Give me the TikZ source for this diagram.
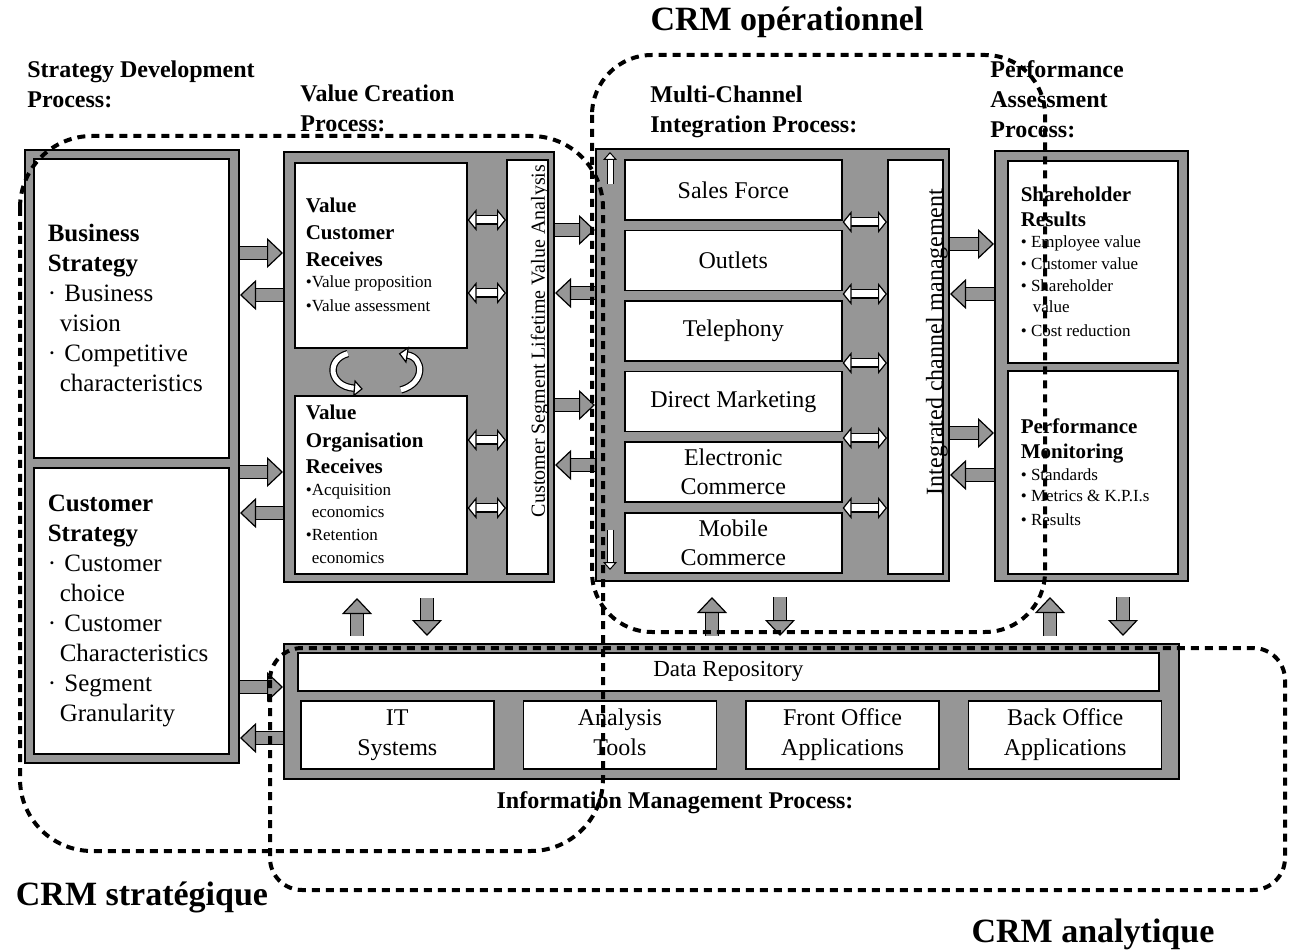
\documentclass[tikz,border=0pt]{standalone}
\usepackage{fontspec}
\setmainfont{Liberation Serif}
\usetikzlibrary{arrows.meta,positioning}
\definecolor{framegray}{RGB}{150,150,150}
\newcommand{\fsz}[2]{\fontsize{#1}{#2}\selectfont\spaceskip=0pt\xspaceskip=0pt\relax}
\newcommand{\pdot}{\textperiodcentered\ }

\begin{document}
\begin{tikzpicture}[
  x=0.5pt, y=-0.5pt,
  frame/.style={draw, line width=1pt, fill=framegray, anchor=north west, inner sep=0pt},
  panel/.style={draw, line width=0.8pt, fill=white, anchor=north west, inner sep=0pt},
  txtpanel/.style={panel, align=left, inner xsep=#1},
  chan/.style={draw, line width=0.8pt, fill=white, inner sep=0pt, align=center,
               minimum width=108.5pt, minimum height=30pt, font=\fsz{12}{14.5}},
  imbox/.style={panel, align=center, minimum width=96.5pt, minimum height=34pt, font=\fsz{12}{15}},
  hdr/.style={anchor=north west, inner sep=0pt, align=left, font=\fsz{12}{15}\bfseries},
  crmlab/.style={inner sep=0pt, font=\fsz{17}{20}\bfseries},
  crm/.style={line width=2pt, dash pattern=on 4pt off 3pt},
  garr/.style={draw, line width=0.6pt, double=framegray, double distance=6pt,
               -{Triangle[length=8pt, width=15pt, fill=framegray, line width=0.6pt]}},
  warr/.style={line width=0.6pt, double=white, double distance=3.5pt,
               {Triangle[length=4.5pt, width=11pt, fill=white, line width=0.6pt]}-{Triangle[length=4.5pt, width=11pt, fill=white, line width=0.6pt]}},
  curl/.style={line width=0.6pt, double=white, double distance=2.5pt,
               -{Triangle[length=4.5pt, width=8.5pt, fill=white, line width=0.6pt]}},
  sarr/.style={line width=0.5pt, double=white, double distance=2.5pt,
               -{Triangle[length=4pt, width=7pt, fill=white, line width=0.5pt]}},
  updn/.style={shorten <=3.5pt, shorten >=7.5pt},
  dnup/.style={shorten <=7.5pt, shorten >=3.5pt},
]
\useasboundingbox (0,0) rectangle (1295,951);

% strategy development
\node[frame, minimum width=107pt, minimum height=306.5pt] (sdf) at (24,149) {};
\node[txtpanel=7pt, text width=83.5pt, minimum width=97.5pt, minimum height=149.5pt, font=\fsz{12.5}{15}] (bs) at (33,158)
  {\textbf{Business}\\ \textbf{Strategy}\\ \pdot Business\\ \hspace*{6pt}vision\\ \pdot Competitive\\ \hspace*{6pt}characteristics};
\node[txtpanel=7pt, text width=83.5pt, minimum width=97.5pt, minimum height=143pt, font=\fsz{12.5}{15}] (cs) at (33,467)
  {\textbf{Customer}\\ \textbf{Strategy}\\ \pdot Customer\\ \hspace*{6pt}choice\\ \pdot Customer\\ \hspace*{6pt}Characteristics\\ \pdot Segment\\ \hspace*{6pt}Granularity};

% value creation
\node[frame, minimum width=135pt, minimum height=215pt] (vcf) at (283,151) {};
\node[txtpanel=5.5pt, text width=75pt, minimum width=86pt, minimum height=92.5pt] (vcr) at (294,162)
  {\fsz{10.5}{13.5}\bfseries Value\\ Customer\\ Receives\par
   \fsz{8.5}{10.5}\mdseries \textbullet Value proposition\\ \textbullet Value assessment};
\node[txtpanel=5.5pt, text width=75pt, minimum width=86pt, minimum height=89pt] (vor) at (294,395)
  {\fsz{10.5}{13.5}\bfseries Value\\ Organisation\\ Receives\par
   \fsz{8.5}{11}\mdseries \textbullet Acquisition\\ \hspace*{3pt}economics\\ \textbullet Retention\\ \hspace*{3pt}economics};
\node[panel, minimum width=20.5pt, minimum height=207pt] (lva) at (506,159) {};
\node[rotate=90, inner sep=0pt, font=\fsz{10}{12}] (lvat) at (540,341) {Customer Segment Lifetime Value Analysis};

% multi-channel integration
\node[frame, minimum width=176.5pt, minimum height=216pt] (mcf) at (595,148) {};
\node[chan, anchor=north west] (sales) at (624,159) {Sales Force};
\node[chan, below=4.5pt of sales] (outl) {Outlets};
\node[chan, below=4.5pt of outl] (tel) {Telephony};
\node[chan, below=4.5pt of tel] (dm) {Direct Marketing};
\node[chan, below=4.5pt of dm] (ec) {Electronic\\ Commerce};
\node[chan, below=4.5pt of ec] (mob) {Mobile\\ Commerce};
\node[panel, minimum width=27.5pt, minimum height=207pt] (icm) at (887,159) {};
\node[rotate=90, inner sep=0pt, font=\fsz{12}{14}] (icmt) at (937,342) {Integrated channel management};

% performance assessment
\node[frame, minimum width=96.5pt, minimum height=215pt] (paf) at (994,150) {};
\node[txtpanel=6.5pt, text width=72pt, minimum width=85pt, minimum height=101pt] (shr) at (1007,160)
  {\fsz{10.5}{12.5}\bfseries Shareholder\\ Results\par
   \fsz{8.5}{10.8}\mdseries \textbullet\ Employee value\\ \textbullet\ Customer value\\ \textbullet\ Shareholder\\ \hspace*{6pt}value\\ \textbullet\ Cost reduction};
\node[txtpanel=6.5pt, text width=72pt, minimum width=85pt, minimum height=101.5pt] (pmon) at (1007,370)
  {\fsz{10.5}{12.5}\bfseries Performance\\ Monitoring\par
   \fsz{8.5}{10.8}\mdseries \textbullet\ Standards\\ \textbullet\ Metrics \& K.P.I.s\\ \textbullet\ Results};

% information management
\node[frame, minimum width=447.5pt, minimum height=67.5pt] (imf) at (283,643) {};
\node[panel, minimum width=430.5pt, minimum height=19pt, font=\fsz{11.5}{14}] (repo) at (297,652) {Data Repository};
\node[imbox] (its) at (300,700) {IT\\ Systems};
\node[imbox, right=14pt of its] (ant) {Analysis\\ Tools\vphantom{y}};
\node[imbox, right=14pt of ant] (foa) {Front Office\\ Applications};
\node[imbox, right=14pt of foa] (boa) {Back Office\\ Applications};

% headings
\node[hdr] (sdh) at (27,60) {Strategy Development\\ Process:};
\node[hdr] (vch) at (300,84) {Value Creation\\ Process:};
\node[hdr] (mch) at (650,85) {Multi-Channel\\ Integration Process:};
\node[hdr] (pah) at (990,60) {Performance\\ Assessment\\ Process:};
\node[inner sep=0pt, font=\fsz{12}{15}\bfseries] (imh) at (675,803) {Information Management Process:};

% block arrows
\draw[garr] (sdf.east |- 0,253) -- (vcf.west |- 0,253);
\draw[garr] (vcf.west |- 0,295) -- (sdf.east |- 0,295);
\draw[garr] (sdf.east |- 0,472) -- (vcf.west |- 0,472);
\draw[garr] (vcf.west |- 0,513) -- (sdf.east |- 0,513);
\draw[garr] (sdf.east |- 0,687) -- (imf.west |- 0,687);
\draw[garr] (imf.west |- 0,738) -- (sdf.east |- 0,738);

\draw[garr] (vcf.east |- 0,230) -- (mcf.west |- 0,230);
\draw[garr] (mcf.west |- 0,293) -- (vcf.east |- 0,293);
\draw[garr] (vcf.east |- 0,405) -- (mcf.west |- 0,405);
\draw[garr] (mcf.west |- 0,465) -- (vcf.east |- 0,465);

\draw[garr] (mcf.east |- 0,244) -- (paf.west |- 0,244);
\draw[garr] (paf.west |- 0,294) -- (mcf.east |- 0,294);
\draw[garr] (mcf.east |- 0,433) -- (paf.west |- 0,433);
\draw[garr] (paf.west |- 0,475) -- (mcf.east |- 0,475);

\draw[garr, updn] (imf.north -| 357,0) -- (vcf.south -| 357,0);
\draw[garr, dnup] (vcf.south -| 427,0) -- (imf.north -| 427,0);
\draw[garr, updn] (imf.north -| 712,0) -- (mcf.south -| 712,0);
\draw[garr, dnup] (mcf.south -| 780,0) -- (imf.north -| 780,0);
\draw[garr, updn] (imf.north -| 1050,0) -- (paf.south -| 1050,0);
\draw[garr, dnup] (paf.south -| 1123,0) -- (imf.north -| 1123,0);

% white arrows
\draw[warr] (vcr.east |- 0,220) -- (lva.west |- 0,220);
\draw[warr] (vcr.east |- 0,293) -- (lva.west |- 0,293);
\draw[warr] (vor.east |- 0,440) -- (lva.west |- 0,440);
\draw[warr] (vor.east |- 0,508) -- (lva.west |- 0,508);
\draw[warr] (sales.east |- 0,222) -- (icm.west |- 0,222);
\draw[warr] (outl.east |- 0,294) -- (icm.west |- 0,294);
\draw[warr] (tel.east |- 0,363) -- (icm.west |- 0,363);
\draw[warr] (dm.east |- 0,438) -- (icm.west |- 0,438);
\draw[warr] (ec.east |- 0,508) -- (icm.west |- 0,508);
\draw[curl] ([xshift=-16.5pt,yshift=-2.5pt]vcr.south) .. controls ([xshift=-27.5pt,yshift=-5.5pt]vcr.south) and ([xshift=-26pt,yshift=4.5pt]vor.north) .. ([xshift=-9pt,yshift=3pt]vor.north);
\draw[curl] ([xshift=10pt,yshift=2.5pt]vor.north) .. controls ([xshift=22.5pt,yshift=6pt]vor.north) and ([xshift=21.5pt,yshift=-4.5pt]vcr.south) .. ([xshift=9pt,yshift=-2.5pt]vcr.south);
\draw[sarr] ([xshift=7.5pt,yshift=-18pt]mcf.north west) -- ([xshift=7.5pt,yshift=-2pt]mcf.north west);
\draw[sarr] ([xshift=7.5pt,yshift=26pt]mcf.south west) -- ([xshift=7.5pt,yshift=6pt]mcf.south west);

% crm regions
\draw[crm, rounded corners=36pt] (20,136) rectangle (603,851);
\draw[crm, rounded corners=30pt] (592,55) rectangle (1045,632);
\draw[crm, rounded corners=16pt] (270,648) rectangle (1285,890);
\node[crmlab] (crmo) at (787,22) {CRM opérationnel};
\node[crmlab] (crms) at (142,897) {CRM stratégique};
\node[crmlab] (crma) at (1093,934) {CRM analytique};
\end{tikzpicture}
\end{document}
